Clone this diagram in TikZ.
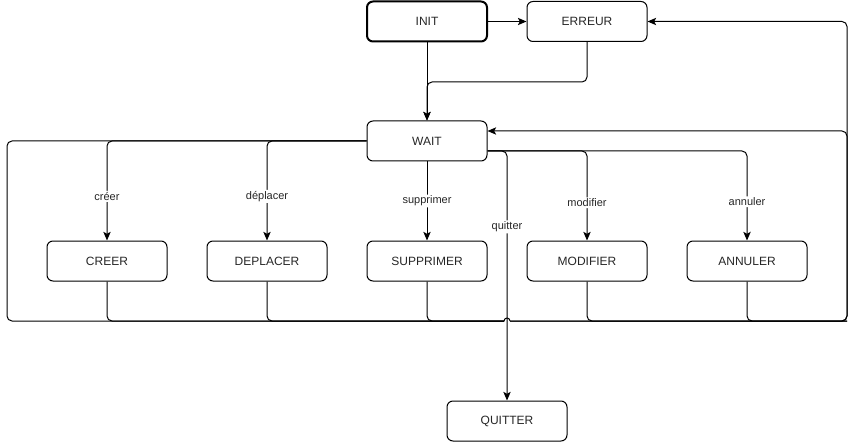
\documentclass[tikz,border=0pt]{standalone}
\usepackage{fontspec}
\setmainfont{Liberation Sans}
\usetikzlibrary{arrows.meta,calc}
\begin{document}
\begin{tikzpicture}[x=0.75pt,y=-0.75pt,
  state/.style={draw, rounded corners=4.5pt, minimum width=90pt, minimum height=30pt,
    line width=0.75pt, font=\fontsize{9pt}{11pt}\selectfont, text=black!85, inner sep=0pt},
  line/.style={line width=0.75pt, rounded corners=3.75pt},
  arr/.style={line, -{Stealth[length=6.5pt,width=5.5pt,inset=1.5pt]}},
  lbl/.style={fill=white, font=\fontsize{8.25pt}{10pt}\selectfont, text=black!85, inner sep=1pt}]
\useasboundingbox (0,0) rectangle (856,442);

\node[state, line width=1.5pt] (init) at (427,21.5) {INIT};
\node[state] (erreur) at (587,21.5) {ERREUR};
\node[state] (wait) at (427,141) {WAIT};
\node[state] (creer) at (107,261) {CREER};
\node[state] (deplacer) at (267,261) {DEPLACER};
\node[state] (supprimer) at (427,261) {SUPPRIMER};
\node[state] (modifier) at (587,261) {MODIFIER};
\node[state] (annuler) at (747,261) {ANNULER};
\node[state] (quitter) at (507,421) {QUITTER};

\coordinate (bl) at (7,321);
\coordinate (br) at (847,321);
\coordinate (jl) at (504,321);
\coordinate (jr) at (510,321);
\coordinate (wout) at ($(wait.east)+(0,10)$);
\coordinate (win) at ($(wait.east)+(0,-10)$);

% top part
\draw[arr] (init) -- (erreur);
\draw[arr] (init) -- (wait);
\draw[arr] (erreur.south) -- ++(0,40) -| (wait.north);

% return trunk
\draw[line] (wait.west) -| (bl) -- (jl);
\draw[line] (jl) arc[start angle=180,end angle=0,radius=2.25pt];
\draw[arr] (jr) -- (br) |- (erreur.east);
\draw[arr] (jr) -- (br) |- (win);
\draw[line] (creer.south) |- (jl);
\draw[line] (deplacer.south) |- (jl);
\draw[line] (supprimer.south) |- (jl);
\draw[line] (modifier.south) |- (br);
\draw[line] (annuler.south) |- (br);

% transitions from WAIT
\draw[arr] (wait.west) -| node[lbl, pos=0.778] {créer} (creer.north);
\draw[arr] (wait.west) -| node[lbl, pos=0.778] {déplacer} (deplacer.north);
\draw[arr] (wait) -- node[lbl, midway] {supprimer} (supprimer);
\draw[arr] (wout) -| node[lbl, pos=0.652] {quitter} (quitter.north);
\draw[arr] (wout) -| node[lbl, pos=0.789] {modifier} (modifier.north);
\draw[arr] (wout) -| node[lbl, pos=0.783] {annuler} (annuler.north);
\end{tikzpicture}
\end{document}
